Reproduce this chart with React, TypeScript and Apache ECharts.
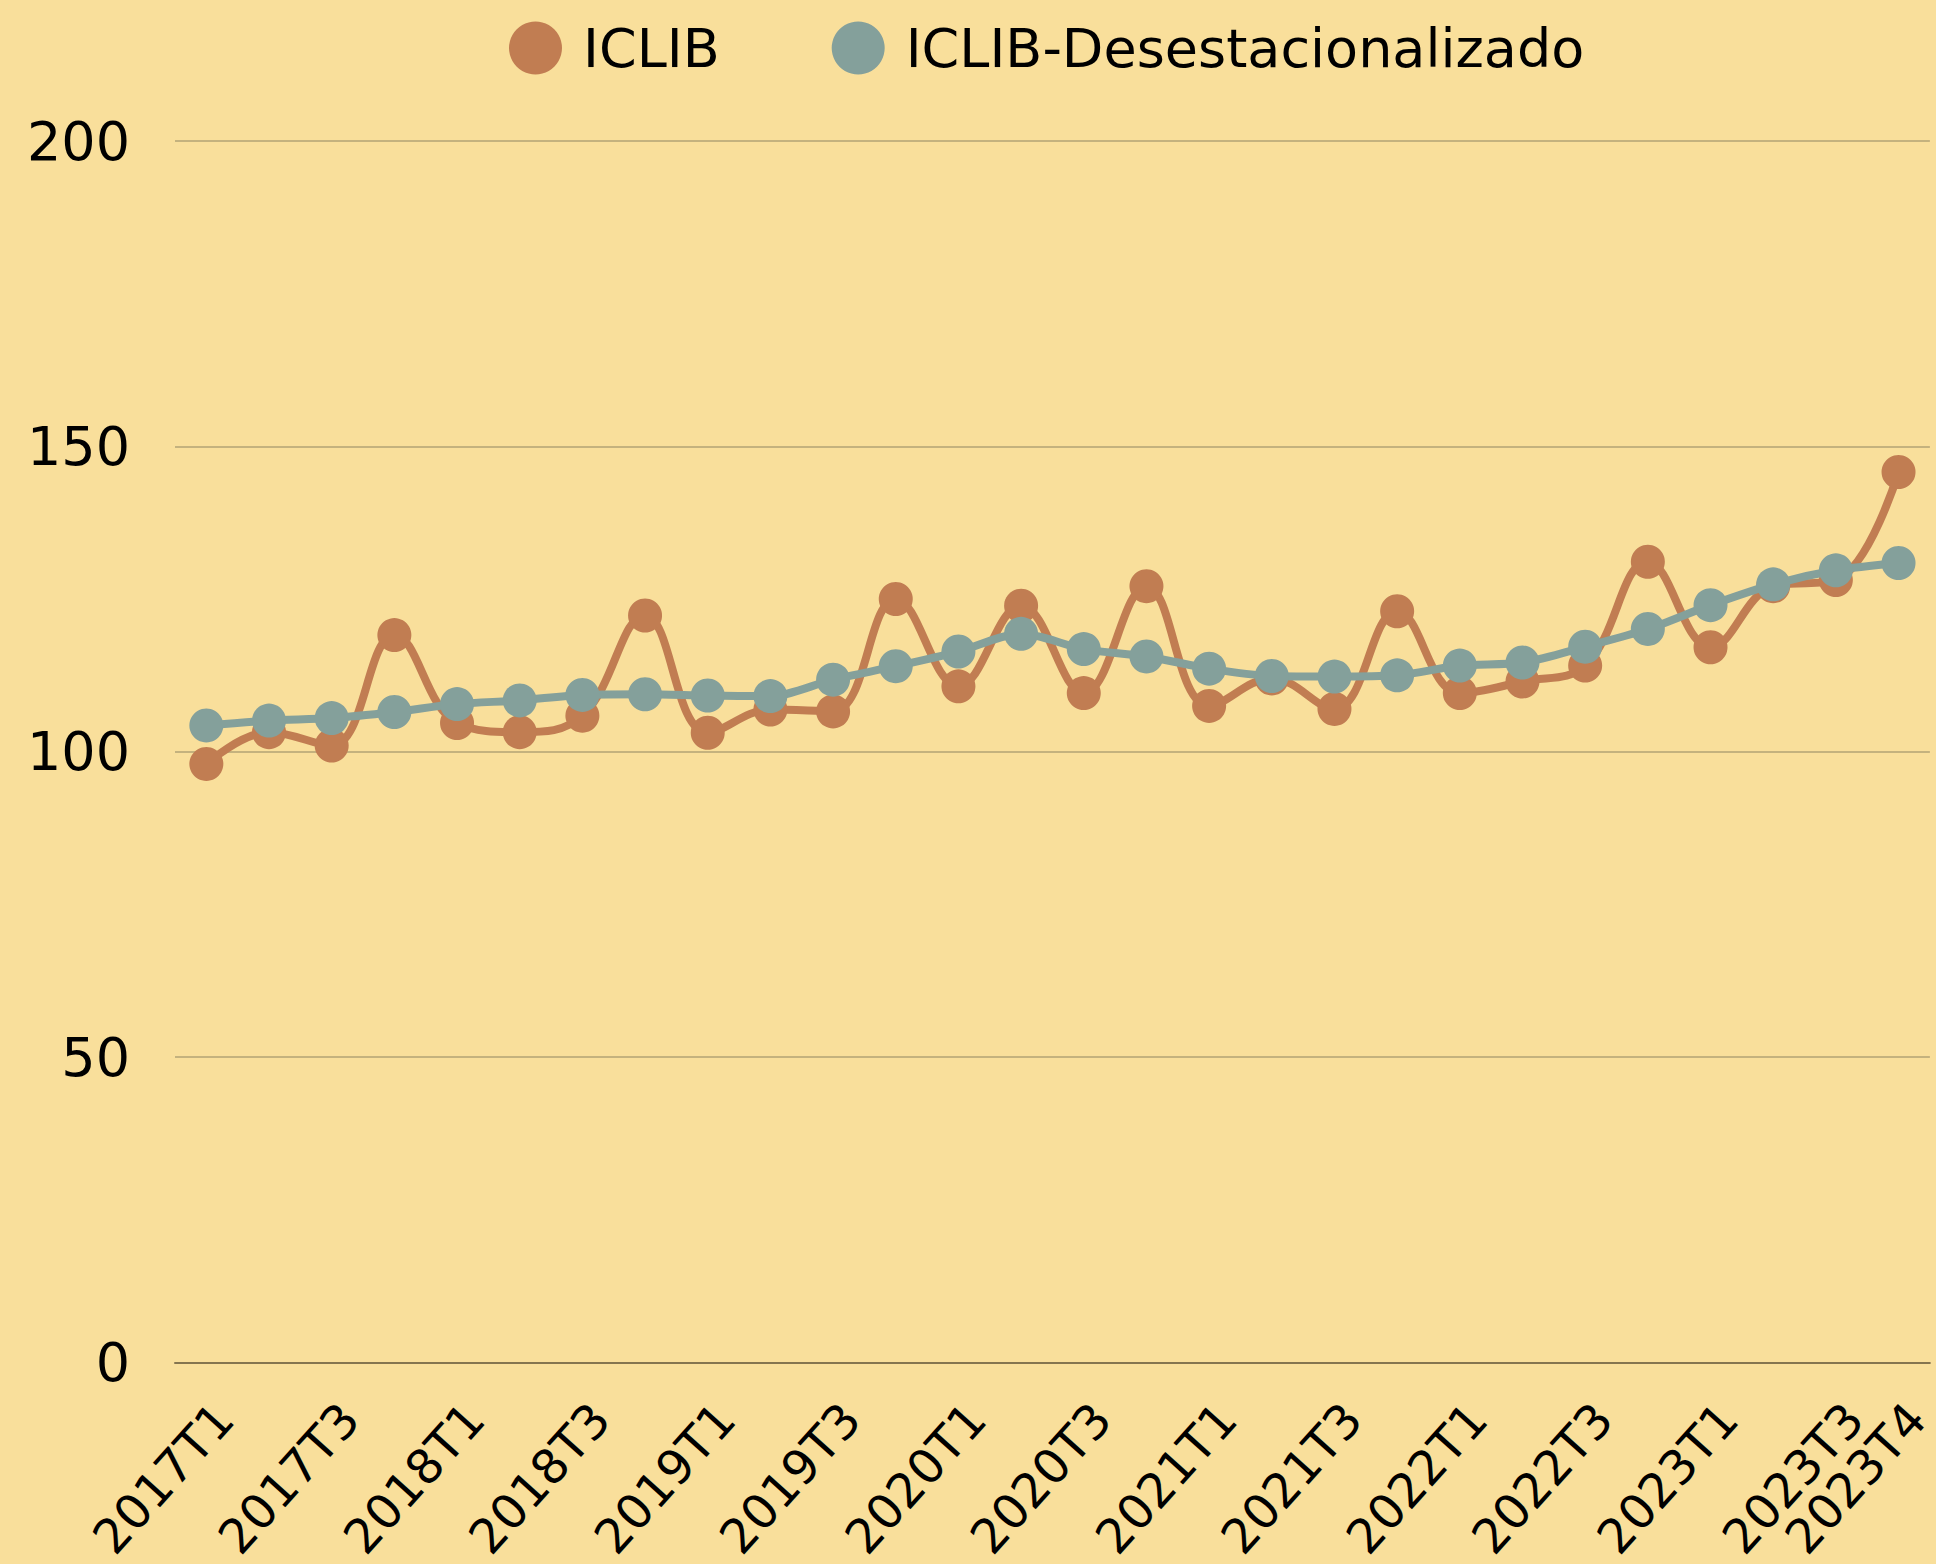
import React, { useEffect, useRef } from "react";
import * as echarts from "echarts";

const categories = [
  "2017T1", "2017T2", "2017T3", "2017T4",
  "2018T1", "2018T2", "2018T3", "2018T4",
  "2019T1", "2019T2", "2019T3", "2019T4",
  "2020T1", "2020T2", "2020T3", "2020T4",
  "2021T1", "2021T2", "2021T3", "2021T4",
  "2022T1", "2022T2", "2022T3", "2022T4",
  "2023T1", "2023T2", "2023T3", "2023T4",
];

const iclib = [
  98.0, 103.2, 101.0, 119.1, 104.7, 103.2, 105.9, 122.3, 103.1, 106.9, 106.6, 125.0,
  110.7, 123.9, 109.6, 127.1, 107.5, 112.0, 107.0, 123.0, 109.6, 111.5, 114.1, 131.1,
  117.1, 127.1, 128.1, 145.8,
];

const iclibDesest = [
  104.3, 105.1, 105.5, 106.5, 107.8, 108.4, 109.3, 109.4, 109.2, 109.1, 111.8, 114.0,
  116.4, 119.3, 116.8, 115.6, 113.6, 112.4, 112.3, 112.5, 114.1, 114.6, 117.2, 120.1,
  124.0, 127.4, 129.7, 130.9,
];

const seriesNames = ["ICLIB", "ICLIB-Desestacionalizado"];
const yTicks = { min: 0, max: 200, interval: 50 };

const FONT = "DejaVu Sans";

export default function App() {
  const ref = useRef<HTMLDivElement>(null);

  useEffect(() => {
    document.documentElement.style.overflow = "hidden";
    document.body.style.margin = "0";
    document.body.style.overflow = "hidden";
    const chart = echarts.init(ref.current!, null, { renderer: "svg" });
    const lastIdx = categories.length - 1;
    chart.setOption({
      animation: false,
      backgroundColor: "#F9DF9B",
      textStyle: { fontFamily: FONT },
      legend: {
        left: 504,
        top: 16,
        itemWidth: 53,
        itemHeight: 53,
        itemGap: 112,
        icon: "circle",
        textStyle: {
          fontFamily: FONT,
          fontSize: 54,
          color: "#000",
          padding: [0, 0, 0, 16],
        },
        data: seriesNames,
      },
      grid: {
        left: 175,
        right: -6,
        top: 141,
        bottom: 201,
        containLabel: false,
      },
      xAxis: {
        type: "category",
        data: categories,
        boundaryGap: true,
        axisLine: { show: true, lineStyle: { color: "#85754F", width: 2 } },
        axisTick: { show: false },
        splitLine: { show: false },
        axisLabel: {
          interval: 0,
          formatter: (v: string, i: number) => (i % 2 === 0 || i === lastIdx ? v : ""),
          hideOverlap: false,
          rotate: 48,
          align: "right",
          verticalAlign: "top",
          margin: 32,
          fontFamily: FONT,
          fontSize: 48,
          color: "#000",
        },
      },
      yAxis: {
        type: "value",
        min: yTicks.min,
        max: yTicks.max,
        interval: yTicks.interval,
        axisLine: { show: false },
        axisTick: { show: false },
        splitLine: { show: true, lineStyle: { color: "#C4B27E", width: 2 } },
        axisLabel: {
          margin: 45,
          fontFamily: FONT,
          fontSize: 54,
          color: "#000",
        },
      },
      series: [
        {
          name: seriesNames[0],
          type: "line",
          data: iclib,
          smooth: 0.4,
          symbol: "circle",
          symbolSize: 34,
          showAllSymbol: true,
          color: "#C17D52",
          itemStyle: { color: "#C17D52" },
          lineStyle: { color: "#C17D52", width: 8 },
          z: 2,
        },
        {
          name: seriesNames[1],
          type: "line",
          data: iclibDesest,
          smooth: 0.3,
          symbol: "circle",
          symbolSize: 34,
          showAllSymbol: true,
          color: "#84A09B",
          itemStyle: { color: "#84A09B" },
          lineStyle: { color: "#84A09B", width: 8 },
          z: 3,
        },
      ],
    });
    return () => chart.dispose();
  }, []);

  return (
    <div
      ref={ref}
      style={{ position: "fixed", left: 0, top: 0, width: 1936, height: 1564, overflow: "hidden" }}
    />
  );
}
